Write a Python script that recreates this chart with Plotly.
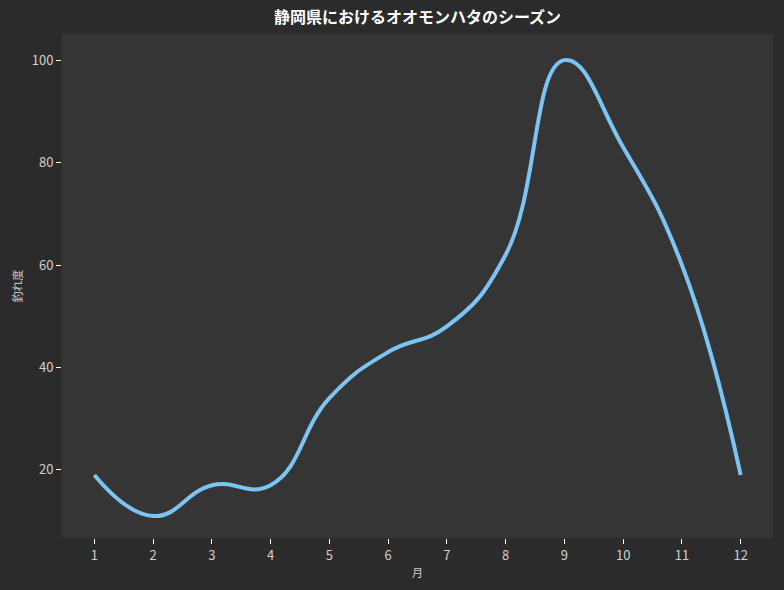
import plotly.graph_objects as go

months = [1, 2, 3, 4, 5, 6, 7, 8, 9, 10, 11, 12]
catch_level = [19, 11, 17, 17, 34, 43, 48, 62, 100, 83, 60, 19]
tick_vals_y = [20, 40, 60, 80, 100]

FONT = "Noto Sans CJK JP"

fig = go.Figure()
fig.add_trace(go.Scatter(
    x=months, y=catch_level, mode="lines",
    line=dict(color="#7cc4f4", width=4, shape="spline", smoothing=1.3),
    showlegend=False,
))

fig.update_layout(
    width=784, height=590,
    paper_bgcolor="#2b2b2b", plot_bgcolor="#353535",
    margin=dict(l=62, r=11, t=34, b=52),
    font=dict(family=FONT, color="#d0d0d0", size=13),
    title=dict(text="<b>静岡県におけるオオモンハタのシーズン</b>", x=0.5, xref="paper",
               y=0.971, yref="container", yanchor="middle",
               font=dict(family=FONT, size=16, color="#ffffff")),
    xaxis=dict(range=[0.45, 12.55], tickvals=months, showgrid=False, zeroline=False,
               ticks="outside", ticklen=5, tickcolor="#ffffff", showline=False,
               automargin=False,
               title=dict(text="月", font=dict(size=11, color="#cccccc"), standoff=6)),
    yaxis=dict(range=[6.7, 105.1], tickvals=tick_vals_y, showgrid=False, zeroline=False,
               ticks="outside", ticklen=5, tickcolor="#ffffff", showline=False,
               automargin=False,
               title=dict(text="釣れ度", font=dict(size=11, color="#cccccc"), standoff=6)),
)

fig.write_html("out.html")
